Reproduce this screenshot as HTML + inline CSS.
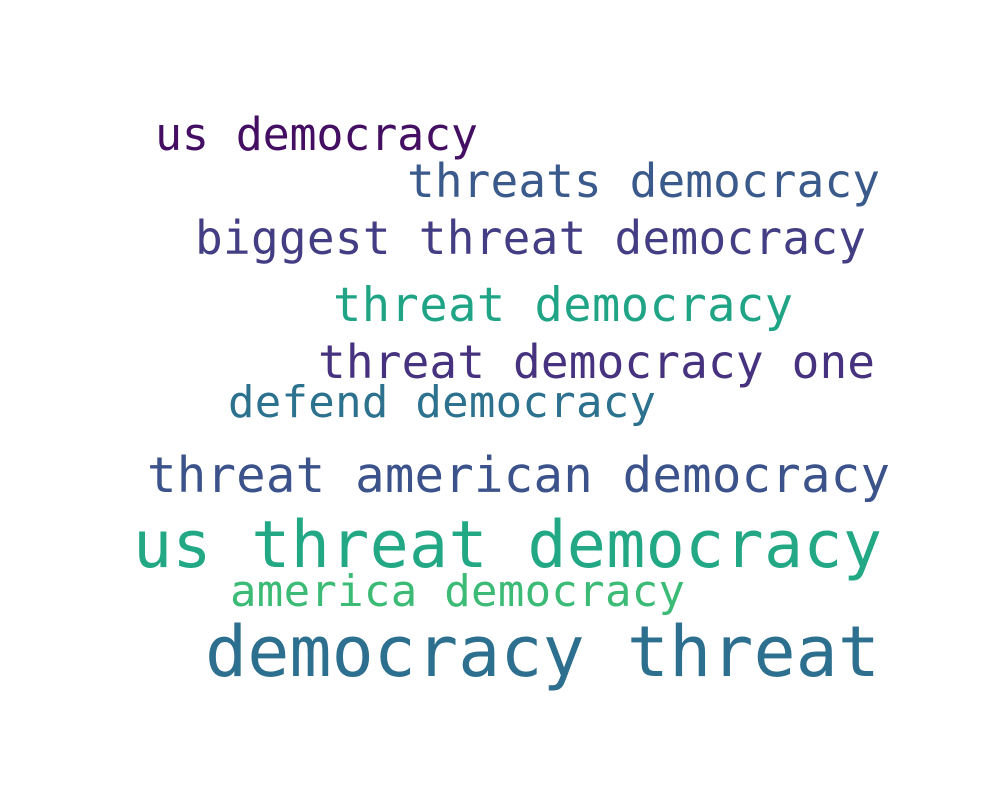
<!DOCTYPE html>
<html><head><meta charset="utf-8"><style>
html,body{margin:0;padding:0;background:#fff;}
svg text{font-family:"DejaVu Sans Mono","Liberation Mono",monospace;}
</style></head><body>
<svg width="1000" height="800" viewBox="0 0 1000 800">
<rect width="1000" height="800" fill="#fff"/>
<text x="155" y="150" font-size="45" fill="#440f62" textLength="323" lengthAdjust="spacing">us democracy</text>
<text x="407" y="197" font-size="46" fill="#3b5a8c" textLength="473" lengthAdjust="spacing">threats democracy</text>
<text x="195" y="254" font-size="46" fill="#433d84" textLength="671" lengthAdjust="spacing">biggest threat democracy</text>
<text x="333" y="321" font-size="47" fill="#20a486" textLength="460" lengthAdjust="spacing">threat democracy</text>
<text x="318" y="378" font-size="46" fill="#46327e" textLength="557" lengthAdjust="spacing">threat democracy one</text>
<text x="228" y="417" font-size="44" fill="#2c718e" textLength="428" lengthAdjust="spacing">defend democracy</text>
<text x="147" y="492" font-size="49" fill="#3b528b" textLength="743" lengthAdjust="spacing">threat american democracy</text>
<text x="133" y="567" font-size="65" fill="#22a884" textLength="749" lengthAdjust="spacing">us threat democracy</text>
<text x="230" y="606" font-size="44" fill="#3bbb75" textLength="455" lengthAdjust="spacing">america democracy</text>
<text x="205" y="676" font-size="70" fill="#2d6f8e" textLength="675" lengthAdjust="spacing">democracy threat</text>
</svg>
</body></html>
